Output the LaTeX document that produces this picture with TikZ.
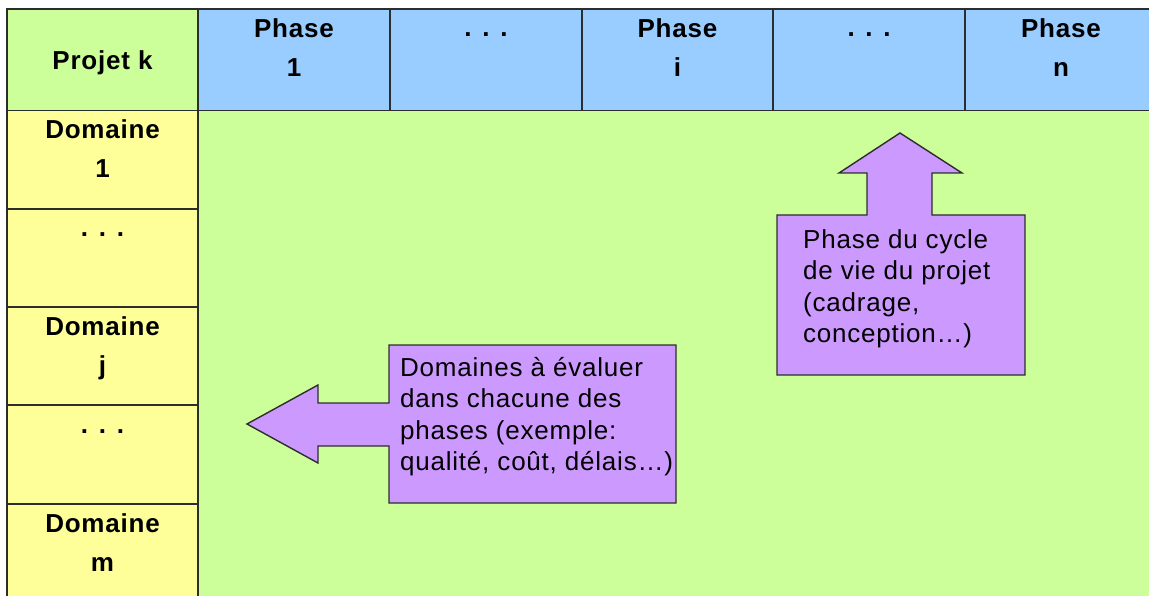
\documentclass[tikz,border=0pt]{standalone}
\usepackage{fontspec}
\setmainfont{Liberation Sans}
\newfontfamily\cellfont[LetterSpace=3]{Liberation Sans}
\usetikzlibrary{positioning}
\definecolor{cornerzone}{RGB}{204,255,153}
\definecolor{phasezone}{RGB}{153,204,255}
\definecolor{domainzone}{RGB}{255,255,153}
\definecolor{notezone}{RGB}{204,153,255}
\definecolor{gridline}{RGB}{45,45,45}

\begin{document}
\begin{tikzpicture}[x=1pt,y=-1pt,
    grid/.style={draw=gridline, line width=1.6pt},
    headlabel/.style={font=\cellfont\bfseries\fontsize{26}{39}\selectfont, align=center, inner sep=0pt},
    notelabel/.style={font=\cellfont\fontsize{26}{31.5}\selectfont, align=left, inner sep=0pt, anchor=north west},
    callout/.style={fill=notezone, draw=gridline, line width=1.4pt, line join=miter}]
    \useasboundingbox (0,0) rectangle (1149,596);
    \clip (0,0) rectangle (1149,596);
    \fill[white] (0,0) rectangle (1149,596);

    % Zones
    \fill[cornerzone] (7,9) rectangle (198,110.5);
    \fill[phasezone] (198,9) rectangle (1160,110.5);
    \fill[domainzone] (7,110.5) rectangle (198,610);
    \fill[cornerzone] (198,110.5) rectangle (1160,610);

    % Grid lines
    \draw[grid] (1160,9) -- (7,9) -- (7,610);
    \draw[grid] (7,110.5) -- (1160,110.5);
    \foreach \x in {198,390,582,773,965} {
        \draw[grid] (\x,9) -- (\x,110.5);
    }
    \draw[grid] (198,110.5) -- (198,610);
    \foreach \y in {209,307,405,504} {
        \draw[grid] (7,\y) -- (198,\y);
    }

    % Header labels
    \node[headlabel, anchor=base] (corner) at (102.5,70) {Projet k};
    \foreach \x/\label [count=\i] in {294/{Phase\\1}, 486/{\vphantom{P}. . .}, 677.5/{Phase\\i}, 869/{\vphantom{P}. . .}, 1061/{Phase\\n}} {
        \node[headlabel, anchor=north] (phase\i) at (\x,18.5) {\label};
    }

    % Domain labels
    \foreach \y/\label [count=\i] in {119.5/{Domaine\\1}, 218/{\vphantom{D}. . .}, 316.5/{Domaine\\j}, 415/{\vphantom{D}. . .}, 513.5/{Domaine\\m}} {
        \node[headlabel, anchor=north] (domain\i) at (102.5,\y) {\label};
    }

    % Phase callout (arrow up)
    \draw[callout] (777,215) -- (867,215) -- (867,173) -- (839,173) -- (900,133)
        -- (962,173) -- (932,173) -- (932,215) -- (1025,215) -- (1025,375)
        -- (777,375) -- cycle;
    \node[notelabel] (phasenote) at (803,229) {Phase du cycle\\de vie du projet\\(cadrage,\\conception…)};

    % Domain callout (arrow left)
    \draw[callout] (389,345) -- (676,345) -- (676,503) -- (389,503) -- (389,446)
        -- (318,446) -- (318,463) -- (247,424) -- (318,385) -- (318,403)
        -- (389,403) -- cycle;
    \node[notelabel] (domainnote) at (400,357) {Domaines à évaluer\\dans chacune des\\phases (exemple:\\qualité, coût, délais…)};

\end{tikzpicture}
\end{document}
